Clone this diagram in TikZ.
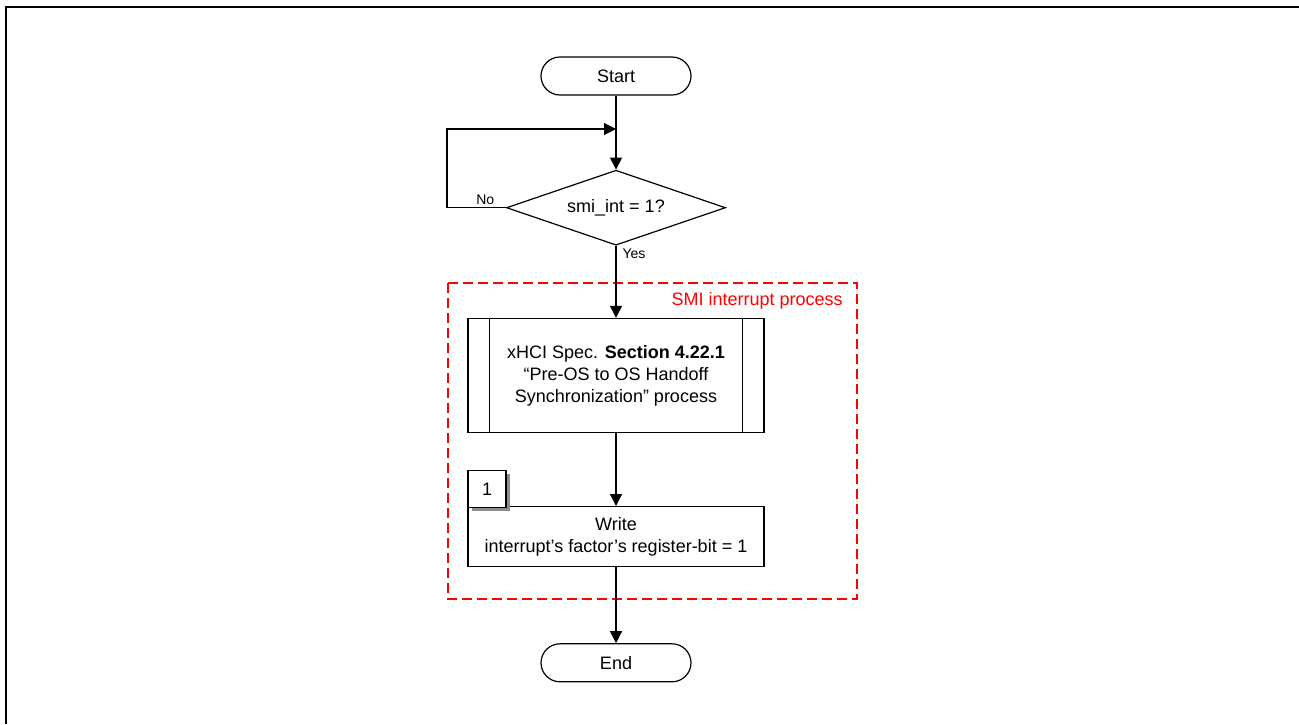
\documentclass[tikz,border=0pt]{standalone}
\usepackage{fontspec}
\setmainfont{Liberation Sans}
\usetikzlibrary{positioning, shapes.geometric, arrows.meta, shadows}

\begin{document}
\begin{tikzpicture}[x=0.5pt, y=-0.5pt,
        font=\fontsize{9}{11}\selectfont,
        terminal/.style={rectangle, draw, line width=0.6pt, rounded corners=9.5pt, minimum width=75pt, minimum height=19pt, inner sep=0pt},
        decision/.style={diamond, draw, line width=0.6pt, minimum width=109.5pt, minimum height=37.5pt, inner sep=0pt, aspect=2.9},
        subproc/.style={rectangle, draw, line width=0.6pt, minimum width=148pt, minimum height=57pt, inner sep=0pt, align=center},
        process/.style={rectangle, draw, line width=0.6pt, minimum width=148pt, minimum height=30pt, inner sep=0pt, align=center},
        tag/.style={rectangle, draw, fill=white, line width=0.6pt, minimum width=19pt, minimum height=18.5pt, inner sep=0pt, drop shadow={shadow xshift=2pt, shadow yshift=-2pt, fill=black!45, opacity=1}},
        paths/.style={line width=0.6pt, -{Triangle[length=6pt, width=6pt]}},
        answer/.style={font=\fontsize{7}{8.5}\selectfont, inner sep=1pt},
        smibox/.style={color=red, line width=0.7pt, dash pattern=on 5pt off 2.5pt}
    ]
        \useasboundingbox (0,0) rectangle (1299,724);

        % Frame
        \draw[line width=1.3pt] (6,724) -- (6,7) -- (1299,7);

        % SMI group
        \draw[smibox] (448,283) rectangle (857,599);
        \node[text=red, anchor=base east, inner sep=0pt] (smi) at (843,305) {SMI interrupt process};

        % Nodes
        \node[terminal] (start) at (616,76) {Start};
        \node[decision, below=37pt of start] (check) {smi\_int = 1?};
        \node[subproc, below=36pt of check] (spec) {xHCI Spec. \textbf{Section 4.22.1}\\“Pre-OS to OS Handoff\\Synchronization” process};
        \node[process, below=36.5pt of spec] (write) {Write\\interrupt’s factor’s register-bit = 1};
        \node[terminal, below=38pt of write] (end) {End};
        \node[tag, anchor=south west] (step1) at ([yshift=-1pt]write.north west) {1};

        \draw[line width=0.6pt] ([xshift=11pt]spec.north west) -- ([xshift=11pt]spec.south west);
        \draw[line width=0.6pt] ([xshift=-11pt]spec.north east) -- ([xshift=-11pt]spec.south east);

        \coordinate (merge) at (616,129);

        % Paths: Main flow
        \draw[paths] (start) -- (check);
        \draw[paths] (check) -- (spec) node[answer, pos=0.11, right=2pt] {Yes};
        \draw[paths] (spec) -- (write);
        \draw[paths] (write) -- (end);

        % Paths: Loop back
        \draw[paths] (check.west) -- ++(-59,0) node[answer, pos=0.35, above] {No} |- (merge);
    \end{tikzpicture}
\end{document}
